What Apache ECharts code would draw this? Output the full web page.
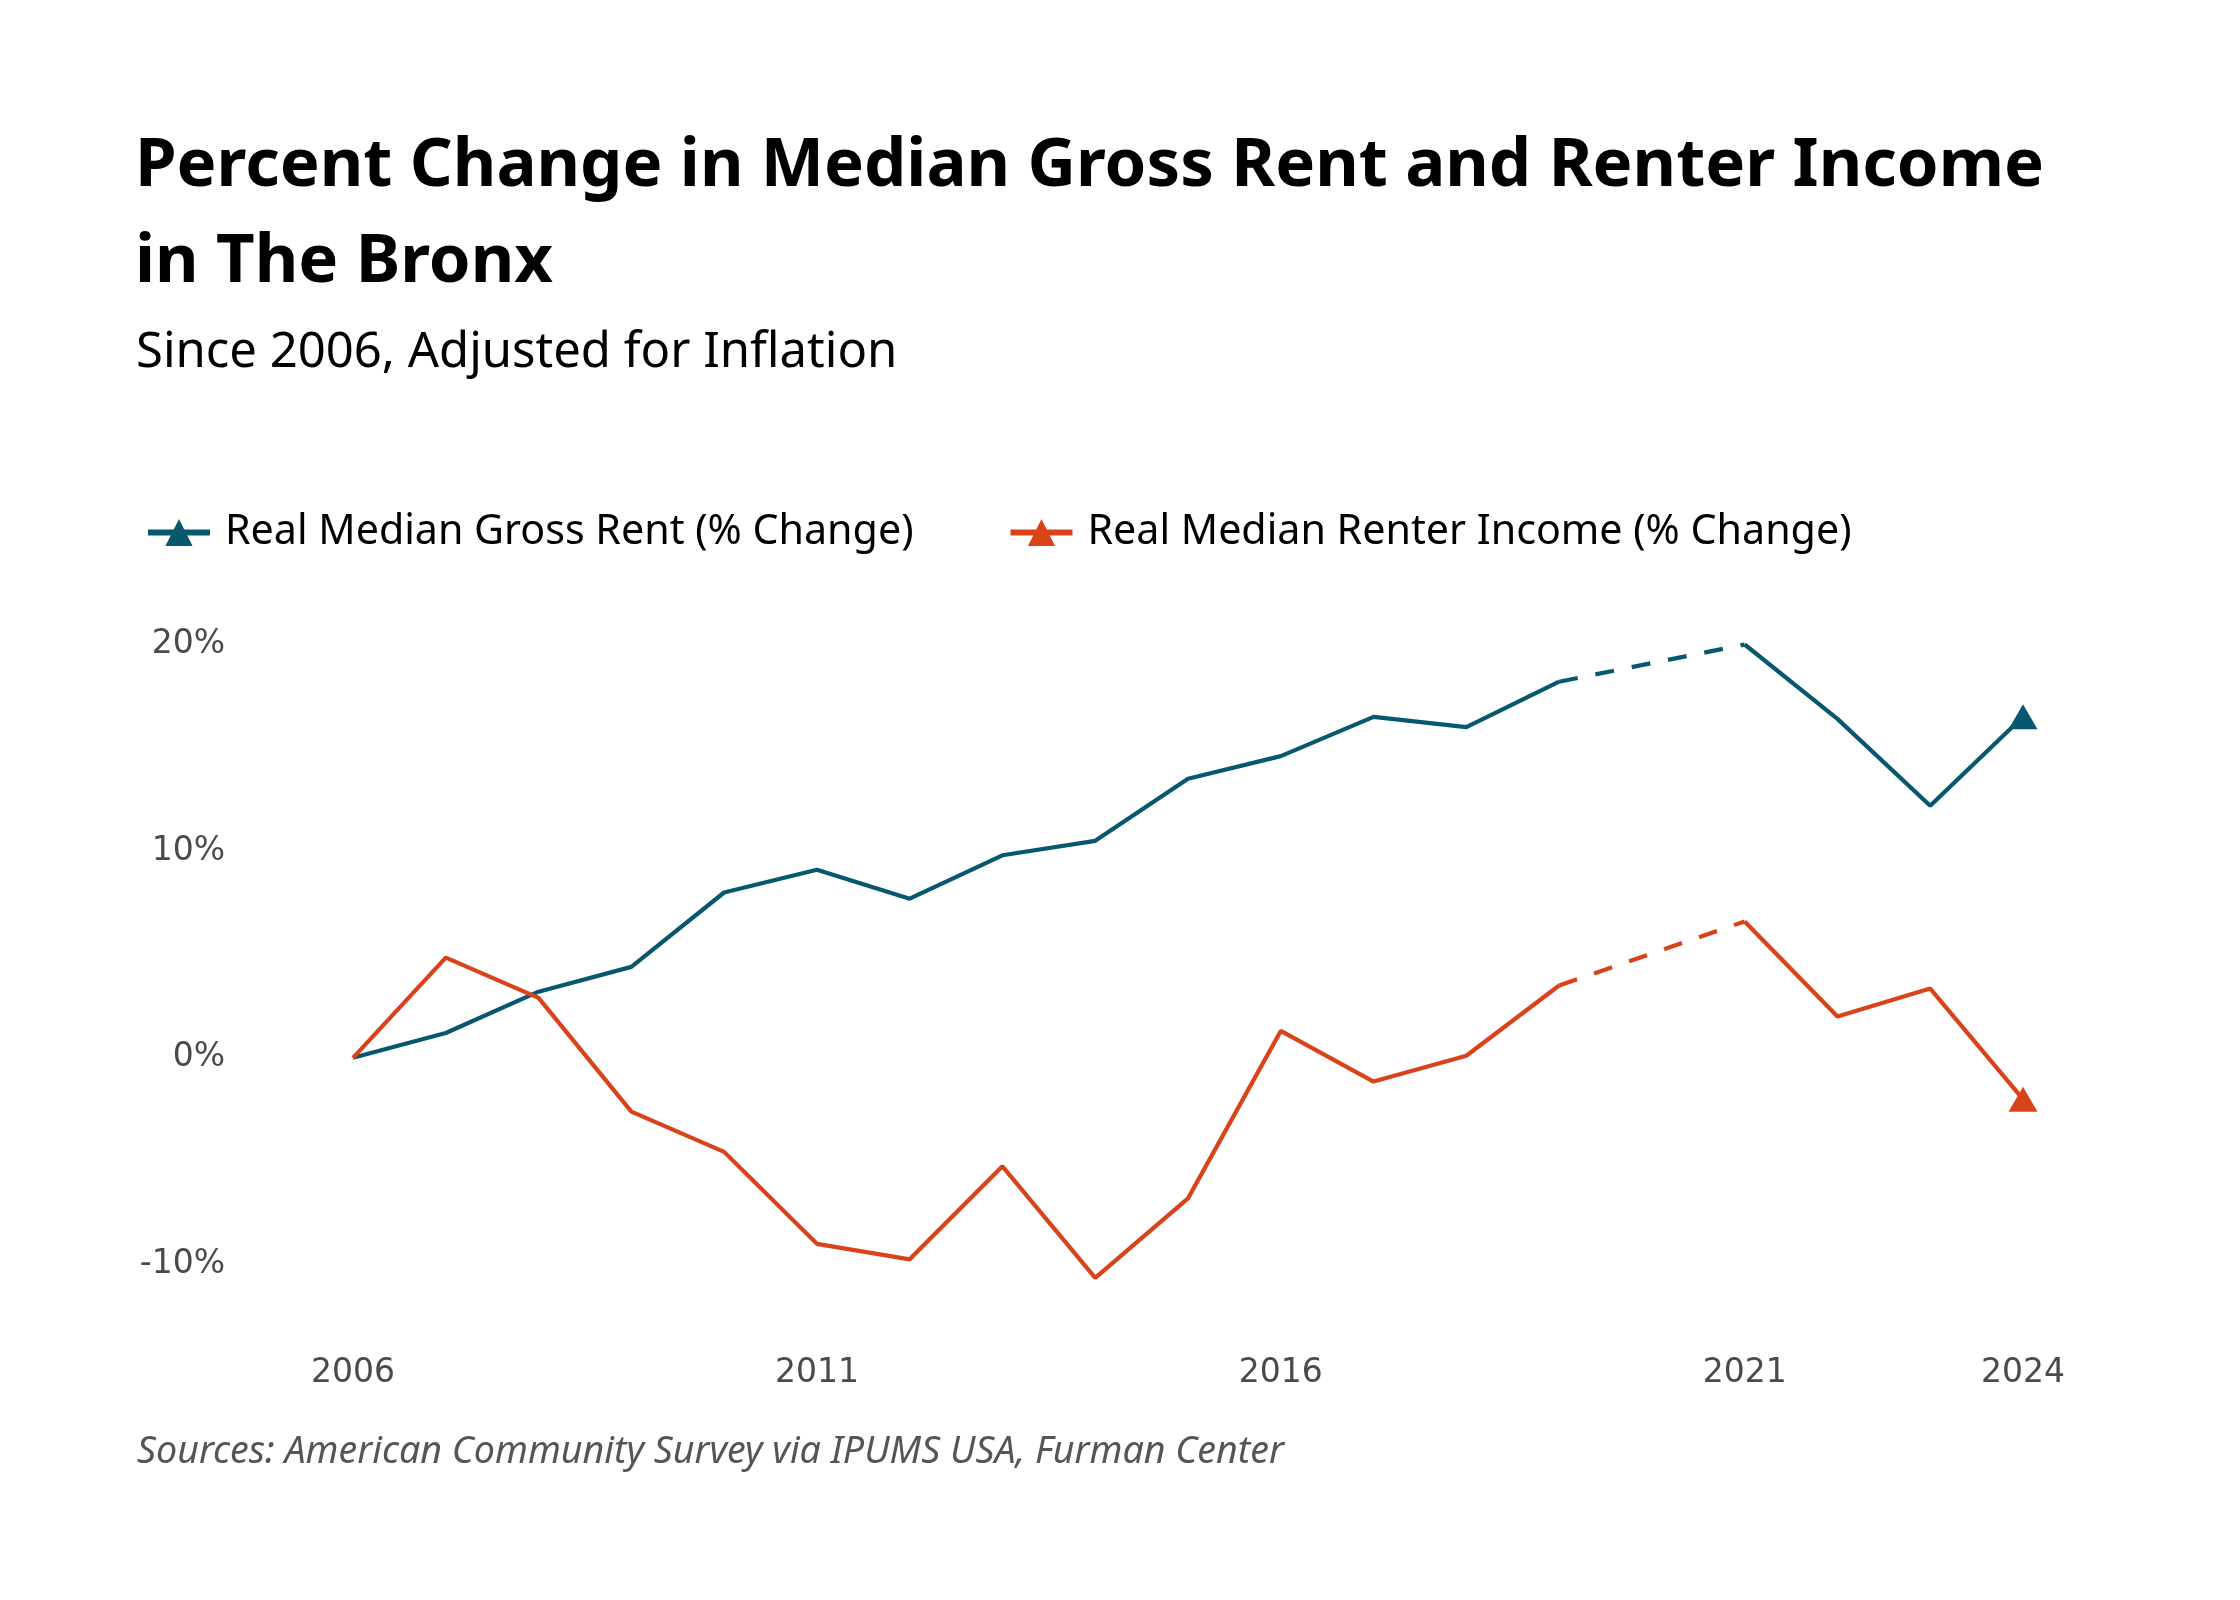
<!DOCTYPE html>
<html>
<head>
<meta charset="utf-8">
<script src="https://cdn.jsdelivr.net/npm/echarts@6/dist/echarts.min.js"></script>
<style>
  html, body { margin: 0; padding: 0; background: #fff; }
  #chart { width: 2240px; height: 1600px; }
</style>
</head>
<body>
<div id="chart"></div>
<script>
(function() {
  'use strict';

  var years = ['2006', '2007', '2008', '2009', '2010', '2011', '2012', '2013', '2014', '2015',
    '2016', '2017', '2018', '2019', '2020', '2021', '2022', '2023', '2024'];
  var labelYears = ['2006', '2011', '2016', '2021', '2024'];

  // 2020 has no survey value: shown as a dashed bridge between 2019 and 2021
  var rentChange = [0, 1.2, 3.2, 4.4, 8.0, 9.1, 7.7, 9.8, 10.5, 13.5,
    14.6, 16.5, 16.0, 18.2, null, 20.0, 16.4, 12.2, 16.5];
  var incomeChange = [0, 4.85, 2.9, -2.6, -4.55, -9.0, -9.75, -5.25, -10.65, -6.8,
    1.3, -1.15, 0.1, 3.5, null, 6.6, 2.0, 3.35, -2.0];

  var yTicks = [-10, 0, 10, 20];

  var blue = '#07586f';
  var orange = '#d8431a';
  var font = 'Noto Sans';
  var axisFont = 'DejaVu Sans';

  function bridge(arr) {
    return arr.map(function(v, i) {
      return (years[i] === '2019' || years[i] === '2021') ? v : null;
    });
  }

  function endSymbolSize(val, params) {
    return params.dataIndex === years.length - 1 ? [29, 25] : 0;
  }

  var chart = echarts.init(document.getElementById('chart'), null, { renderer: 'canvas' });

  var option = {
    backgroundColor: '#ffffff',
    animation: false,
    title: [
      {
        text: 'Percent Change in Median Gross Rent and Renter Income\nin The Bronx',
        left: 130,
        top: 114,
        textStyle: { fontFamily: font, fontWeight: 'bold', fontSize: 67, lineHeight: 96, color: '#000' }
      },
      {
        text: 'Since 2006, Adjusted for Inflation',
        left: 131,
        top: 324,
        textStyle: { fontFamily: font, fontWeight: 'normal', fontSize: 49, color: '#000' }
      },
      {
        text: 'Sources: American Community Survey via IPUMS USA, Furman Center',
        left: 132,
        top: 1428,
        textStyle: { fontFamily: font, fontStyle: 'italic', fontWeight: 'normal', fontSize: 37.6, color: '#555' }
      }
    ],
    legend: {
      data: ['Real Median Gross Rent (% Change)', 'Real Median Renter Income (% Change)'],
      left: 140,
      top: 507,
      itemWidth: 62,
      itemHeight: 34,
      itemGap: 94,
      lineStyle: { width: 6 },
      textStyle: { fontFamily: font, fontSize: 41.2, color: '#000', padding: [0, 0, 0, 10] }
    },
    grid: {
      left: 353,
      right: 217,
      top: 644.5,
      bottom: 335.5,
      containLabel: false
    },
    xAxis: {
      type: 'category',
      data: years,
      boundaryGap: false,
      axisLine: { show: false },
      axisTick: { show: false },
      splitLine: { show: false },
      axisLabel: {
        margin: 92,
        fontFamily: axisFont,
        fontSize: 33,
        color: '#4a4a4a',
        interval: function(index, value) {
          return labelYears.indexOf(value) !== -1;
        }
      }
    },
    yAxis: {
      type: 'value',
      min: yTicks[0],
      max: yTicks[yTicks.length - 1],
      interval: 10,
      axisLine: { show: false },
      axisTick: { show: false },
      splitLine: { show: false },
      axisLabel: {
        margin: 128,
        fontFamily: axisFont,
        fontSize: 33,
        color: '#4a4a4a',
        formatter: function(v) { return v + '%'; }
      }
    },
    series: [
      {
        name: 'Real Median Gross Rent (% Change)',
        type: 'line',
        data: rentChange,
        connectNulls: false,
        clip: false,
        symbol: 'triangle',
        symbolSize: endSymbolSize,
        lineStyle: { color: blue, width: 4.2 },
        itemStyle: { color: blue }
      },
      {
        name: 'Real Median Renter Income (% Change)',
        type: 'line',
        data: incomeChange,
        connectNulls: false,
        clip: false,
        symbol: 'triangle',
        symbolSize: endSymbolSize,
        lineStyle: { color: orange, width: 4.2 },
        itemStyle: { color: orange }
      },
      {
        name: 'rent-gap',
        type: 'line',
        data: bridge(rentChange),
        connectNulls: true,
        clip: false,
        symbol: 'none',
        lineStyle: { color: blue, width: 4.2, type: [19, 18] }
      },
      {
        name: 'income-gap',
        type: 'line',
        data: bridge(incomeChange),
        connectNulls: true,
        clip: false,
        symbol: 'none',
        lineStyle: { color: orange, width: 4.2, type: [19, 18] }
      }
    ]
  };

  chart.setOption(option);

  window.addEventListener('resize', function() {
    chart && chart.resize();
  });
})();
</script>
</body>
</html>
